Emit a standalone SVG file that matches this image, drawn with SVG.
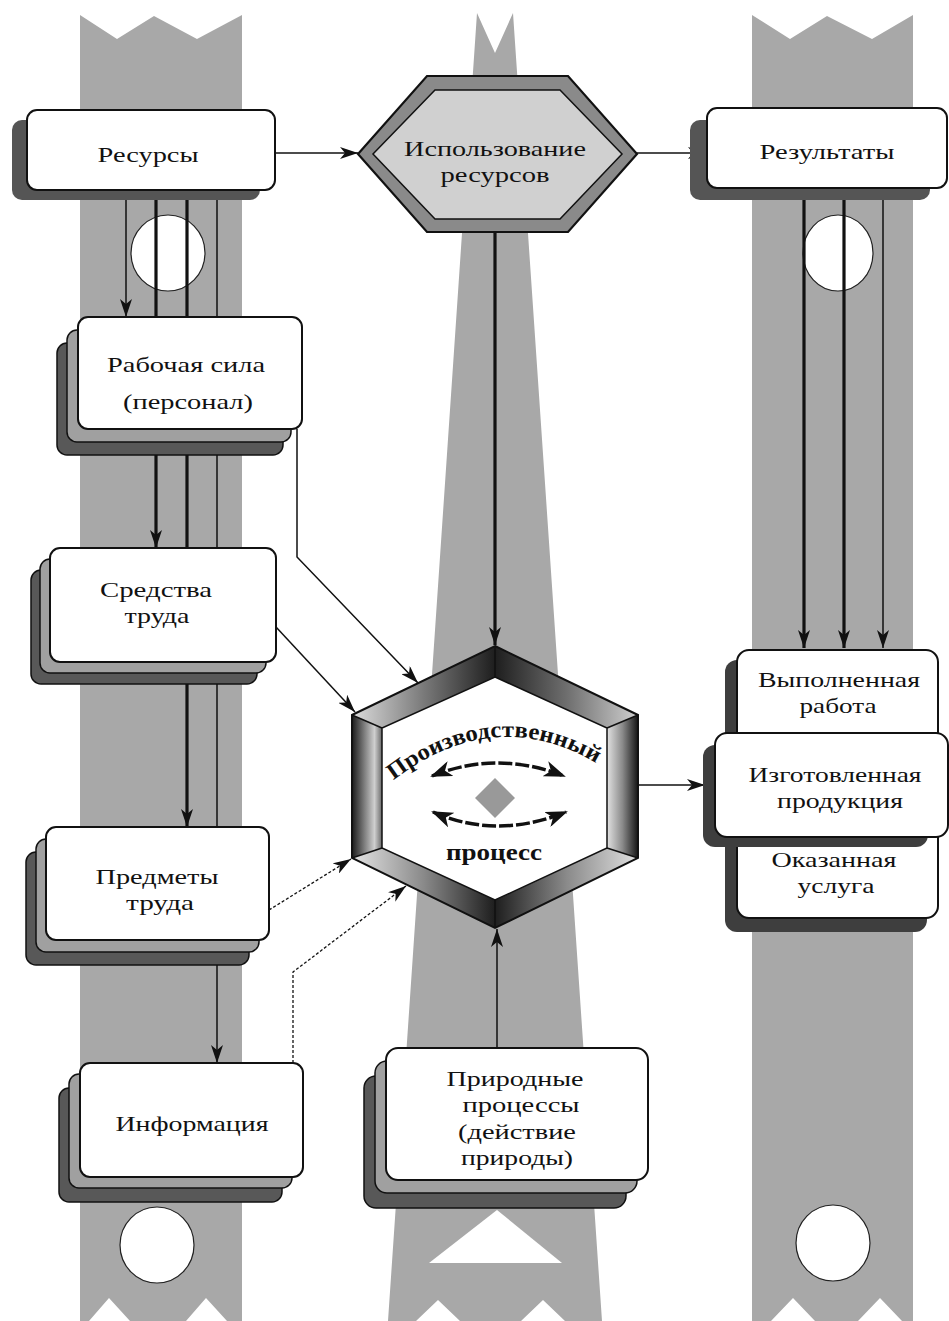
<svg xmlns="http://www.w3.org/2000/svg" width="949" height="1321" viewBox="0 0 949 1321">
<style>
.col{fill:#a8a8a8}
.hole{fill:#fff;stroke:#222;stroke-width:1.2}
.box{fill:#fff;stroke:#111;stroke-width:2}
.sh1{fill:#a0a0a0;stroke:#111;stroke-width:1.5}
.sh2{fill:#585858;stroke:#111;stroke-width:1.5}
.shd{fill:#3e3e3e}
.t{font-family:"Liberation Serif","DejaVu Serif",serif;font-size:22px;fill:#111;text-anchor:middle}
.tb{font-family:"Liberation Serif","DejaVu Serif",serif;font-size:23px;font-weight:bold;fill:#111;text-anchor:middle}
.thin{fill:none;stroke:#111;stroke-width:1.5}
.thick{fill:none;stroke:#111;stroke-width:3.2}
.dash{fill:none;stroke:#111;stroke-width:1.3;stroke-dasharray:3 2}
</style>
<defs>
<marker id="ah" viewBox="0 0 18 12" refX="18" refY="6" markerWidth="18" markerHeight="12" markerUnits="userSpaceOnUse" orient="auto"><path d="M0,0 L18,6 L0,12 L5,6 z" fill="#111"/></marker>
<marker id="ah2" viewBox="0 0 22 16" refX="20" refY="8" markerWidth="22" markerHeight="16" markerUnits="userSpaceOnUse" orient="auto-start-reverse"><path d="M0,0 L22,8 L0,16 L6,8 z" fill="#111"/></marker>
<linearGradient id="gTL" x1="1" y1="0" x2="0" y2="0"><stop offset="0" stop-color="#1e1e1e"/><stop offset="0.5" stop-color="#7a7a7a"/><stop offset="1" stop-color="#dcdcdc"/></linearGradient>
<linearGradient id="gTR" x1="0" y1="0" x2="1" y2="0"><stop offset="0" stop-color="#1e1e1e"/><stop offset="0.5" stop-color="#6e6e6e"/><stop offset="1" stop-color="#cfcfcf"/></linearGradient>
<linearGradient id="gL" x1="0" y1="0" x2="1" y2="0"><stop offset="0" stop-color="#1a1a1a"/><stop offset="0.75" stop-color="#cfcfcf"/><stop offset="1" stop-color="#6a6a6a"/></linearGradient>
<linearGradient id="gR" x1="0" y1="0" x2="1" y2="0"><stop offset="0" stop-color="#e2e2e2"/><stop offset="0.5" stop-color="#8a8a8a"/><stop offset="1" stop-color="#141414"/></linearGradient>
<linearGradient id="gBL" x1="0" y1="0" x2="1" y2="0"><stop offset="0" stop-color="#e4e4e4"/><stop offset="0.5" stop-color="#8a8a8a"/><stop offset="1" stop-color="#1e1e1e"/></linearGradient>
<linearGradient id="gBR" x1="0" y1="0" x2="1" y2="0"><stop offset="0" stop-color="#1e1e1e"/><stop offset="0.5" stop-color="#8a8a8a"/><stop offset="1" stop-color="#e0e0e0"/></linearGradient>
</defs>

<g id="background">
<polygon class="col" points="80,15 117,39 154,16 197,39 242,15 242,1321 227,1321 206,1298 186,1321 130,1321 109,1298 89,1321 80,1321"/>
<polygon class="col" points="752,15 790,39 827,16 872,39 913,15 913,1321 902,1321 880,1298 858,1321 815,1321 793,1298 771,1321 752,1321"/>
<polygon class="col" points="477,13 495,53 513,13 602,1321 565,1321 543,1300 521,1321 460,1321 438,1300 416,1321 388,1321"/>
<polygon fill="#fff" points="497,1210 562,1263 429,1263"/>
<ellipse class="hole" cx="168" cy="253" rx="37" ry="38"/>
<ellipse class="hole" cx="838" cy="253" rx="35" ry="38"/>
<ellipse class="hole" cx="157" cy="1245" rx="37" ry="38"/>
<ellipse class="hole" cx="833" cy="1243" rx="37" ry="38"/>
</g>

<g id="connectors">
<path class="thin" d="M275,153 H358" marker-end="url(#ah)"/>
<path class="thin" d="M637,153 H706" marker-end="url(#ah)"/>
<path class="thick" d="M495,232 V645" marker-end="url(#ah)"/>
<path class="thin" d="M126,190 V317" marker-end="url(#ah)"/>
<path class="thick" d="M156,190 V548" marker-end="url(#ah)"/>
<path class="thick" d="M187,190 V827" marker-end="url(#ah)"/>
<path class="thin" d="M217,190 V1063" marker-end="url(#ah)"/>
<path class="thin" d="M297,429 V557 L418,683" marker-end="url(#ah)"/>
<path class="thin" d="M276,627 L355,712" marker-end="url(#ah)"/>
<path class="dash" d="M269,910 L351,859" marker-end="url(#ah)"/>
<path class="dash" d="M293,1063 V972 L406,886" marker-end="url(#ah)"/>
<path class="thin" d="M497,1048 V929" marker-end="url(#ah)"/>
<path class="thin" d="M638,785 H705" marker-end="url(#ah)"/>
<path class="thick" d="M804,200 V648" marker-end="url(#ah)"/>
<path class="thick" d="M844,200 V648" marker-end="url(#ah)"/>
<path class="thin" d="M883,200 V648" marker-end="url(#ah)"/>
</g>

<g id="resursy">
<rect x="12" y="120" width="248" height="80" rx="10" fill="#555"/>
<rect class="box" x="27" y="110" width="248" height="80" rx="10"/>
<text class="t" x="148" y="162" textLength="101" lengthAdjust="spacingAndGlyphs">Ресурсы</text>
</g>

<g id="ispolzovanie">
<polygon points="427,76 568,76 637,154 568,232 427,232 358,154" fill="#8a8a8a" stroke="#111" stroke-width="2.2"/>
<polygon points="435,90 560,90 622,154 560,219 435,219 373,154" fill="#d0d0d0" stroke="#111" stroke-width="1.5"/>
<text class="t" x="495" y="156" textLength="182" lengthAdjust="spacingAndGlyphs">Использование</text>
<text class="t" x="495" y="182" textLength="109" lengthAdjust="spacingAndGlyphs">ресурсов</text>
</g>

<g id="rezultaty">
<rect x="690" y="120" width="240" height="80" rx="10" fill="#555"/>
<rect class="box" x="707" y="108" width="240" height="80" rx="10"/>
<text class="t" x="827" y="159" textLength="135" lengthAdjust="spacingAndGlyphs">Результаты</text>
</g>

<g id="rabochaya">
<rect class="sh2" x="57" y="343" width="226" height="112" rx="10"/>
<rect class="sh1" x="67" y="330" width="224" height="112" rx="10"/>
<rect class="box" x="78" y="317" width="224" height="112" rx="10"/>
<text class="t" x="186" y="372" textLength="158" lengthAdjust="spacingAndGlyphs">Рабочая сила</text>
<text class="t" x="188" y="409" textLength="130" lengthAdjust="spacingAndGlyphs">(персонал)</text>
</g>

<g id="sredstva">
<rect class="sh2" x="31" y="570" width="226" height="114" rx="10"/>
<rect class="sh1" x="40" y="559" width="226" height="114" rx="10"/>
<rect class="box" x="50" y="548" width="226" height="114" rx="10"/>
<text class="t" x="156" y="597" textLength="112" lengthAdjust="spacingAndGlyphs">Средства</text>
<text class="t" x="157" y="623" textLength="65" lengthAdjust="spacingAndGlyphs">труда</text>
</g>

<g id="predmety">
<rect class="sh2" x="26" y="852" width="223" height="113" rx="10"/>
<rect class="sh1" x="36" y="839" width="223" height="113" rx="10"/>
<rect class="box" x="46" y="827" width="223" height="113" rx="10"/>
<text class="t" x="157" y="884" textLength="123" lengthAdjust="spacingAndGlyphs">Предметы</text>
<text class="t" x="160" y="910" textLength="68" lengthAdjust="spacingAndGlyphs">труда</text>
</g>

<g id="informaciya">
<rect class="sh2" x="59" y="1088" width="223" height="114" rx="10"/>
<rect class="sh1" x="69" y="1074" width="223" height="114" rx="10"/>
<rect class="box" x="80" y="1063" width="223" height="114" rx="10"/>
<text class="t" x="192" y="1131" textLength="153" lengthAdjust="spacingAndGlyphs">Информация</text>
</g>

<g id="prirodnye">
<rect class="sh2" x="364" y="1076" width="262" height="132" rx="12"/>
<rect class="sh1" x="375" y="1061" width="262" height="132" rx="12"/>
<rect class="box" x="386" y="1048" width="262" height="132" rx="12"/>
<text class="t" x="515" y="1086" textLength="137" lengthAdjust="spacingAndGlyphs">Природные</text>
<text class="t" x="521" y="1112" textLength="117" lengthAdjust="spacingAndGlyphs">процессы</text>
<text class="t" x="517" y="1139" textLength="118" lengthAdjust="spacingAndGlyphs">(действие</text>
<text class="t" x="517" y="1165" textLength="112" lengthAdjust="spacingAndGlyphs">природы)</text>
</g>

<g id="proizvodstvenny">
<polygon points="495,646 352,715 382,728 495,677" fill="url(#gTL)"/>
<polygon points="495,646 638,715 607,728 495,677" fill="url(#gTR)"/>
<polygon points="352,715 352,858 382,848 382,728" fill="url(#gL)"/>
<polygon points="638,715 638,858 607,848 607,728" fill="url(#gR)"/>
<polygon points="352,858 495,928 495,900 382,848" fill="url(#gBL)"/>
<polygon points="638,858 495,928 495,900 607,848" fill="url(#gBR)"/>
<polygon points="495,677 607,728 607,848 495,900 382,848 382,728" fill="#fff" stroke="#111" stroke-width="1.5"/>
<polygon points="495,646 638,715 638,858 495,928 352,858 352,715" fill="none" stroke="#111" stroke-width="2"/>
<path d="M495,646 L495,677 M495,928 L495,900 M352,715 L382,728 M638,715 L607,728 M352,858 L382,848 M638,858 L607,848" stroke="#111" stroke-width="1.5" fill="none"/>
<path id="arcTop" d="M386,786 Q495,698 604,768" fill="none"/>
<text class="tb"><textPath href="#arcTop" startOffset="50%" textLength="218" lengthAdjust="spacingAndGlyphs">Производственный</textPath></text>
<path d="M432,776 Q497,750 564,776" fill="none" stroke="#111" stroke-width="3.5" stroke-dasharray="14 3" marker-start="url(#ah2)" marker-end="url(#ah2)"/>
<path d="M433,812 Q497,840 566,812" fill="none" stroke="#111" stroke-width="3.5" stroke-dasharray="14 3" marker-start="url(#ah2)" marker-end="url(#ah2)"/>
<polygon points="495,778 515,798 495,818 475,798" fill="#999"/>
<text class="tb" x="494" y="860" textLength="96" lengthAdjust="spacingAndGlyphs">процесс</text>
</g>

<g id="results-stack">
<rect class="shd" x="725" y="660" width="202" height="272" rx="12"/>
<g id="vypolnennaya">
<rect class="box" x="737" y="650" width="201" height="100" rx="12"/>
<text class="t" x="839" y="687" textLength="162" lengthAdjust="spacingAndGlyphs">Выполненная</text>
<text class="t" x="838" y="713" textLength="77" lengthAdjust="spacingAndGlyphs">работа</text>
</g>
<g id="okazannaya">
<rect class="box" x="737" y="820" width="201" height="98" rx="12"/>
<text class="t" x="834" y="867" textLength="125" lengthAdjust="spacingAndGlyphs">Оказанная</text>
<text class="t" x="836" y="893" textLength="77" lengthAdjust="spacingAndGlyphs">услуга</text>
</g>
<g id="izgotovlennaya">
<rect class="shd" x="703" y="745" width="225" height="102" rx="12"/>
<rect class="box" x="715" y="733" width="233" height="104" rx="12"/>
<text class="t" x="835" y="782" textLength="173" lengthAdjust="spacingAndGlyphs">Изготовленная</text>
<text class="t" x="840" y="808" textLength="126" lengthAdjust="spacingAndGlyphs">продукция</text>
</g>
</g>
</svg>
